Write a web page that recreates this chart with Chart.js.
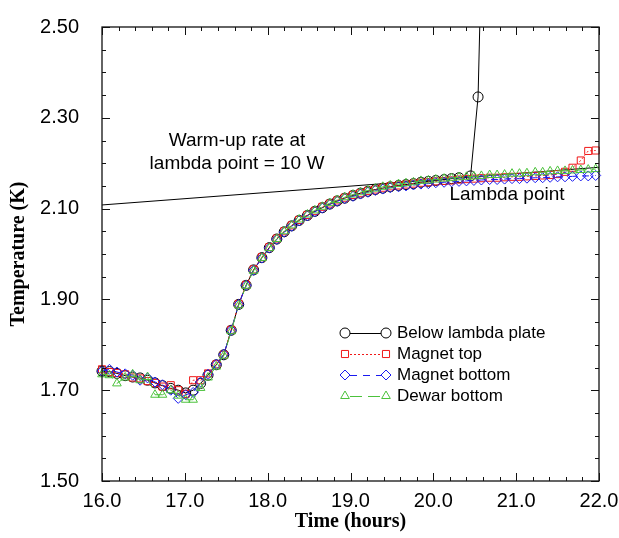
<!DOCTYPE html>
<html>
<head>
<meta charset="utf-8">
<script src="https://cdn.jsdelivr.net/npm/chart.js"></script>
<style>
  html, body { margin: 0; padding: 0; background: #fff; }
  #wrap { width: 619px; height: 538px; }
</style>
</head>
<body>
<div id="wrap"><canvas id="tempChart" width="619" height="538"></canvas></div>
<script>
// Sample times (hours), one reading every ~5.5 minutes
const times = [16.00, 16.09, 16.18, 16.28, 16.37, 16.46, 16.55, 16.64, 16.73, 16.83, 16.92,
  17.01, 17.10, 17.19, 17.28, 17.38, 17.47, 17.56, 17.65, 17.74, 17.83, 17.93,
  18.02, 18.11, 18.20, 18.29, 18.38, 18.48, 18.57, 18.66, 18.75, 18.84, 18.93,
  19.03, 19.12, 19.21, 19.30, 19.39, 19.48, 19.58, 19.67, 19.76, 19.85, 19.94,
  20.03, 20.13, 20.22, 20.31, 20.40, 20.49, 20.58, 20.68, 20.77, 20.86, 20.95,
  21.04, 21.13, 21.23, 21.32, 21.41, 21.50, 21.59, 21.68, 21.78, 21.87, 21.96];

// Temperatures (K)
// below lambda plate: shared readings up to 20.31 h, then its own tail
const belowLambda = [1.742, 1.741, 1.737, 1.732, 1.729, 1.727, 1.722, 1.716, 1.710, 1.704, 1.700,
  1.694, 1.700, 1.715, 1.733, 1.756, 1.778, 1.832, 1.889, 1.931, 1.965, 1.992,
  2.014, 2.033, 2.049, 2.062, 2.074, 2.085, 2.094, 2.102, 2.110, 2.117, 2.123,
  2.129, 2.134, 2.138, 2.142, 2.145, 2.148, 2.151, 2.153, 2.155, 2.158, 2.160,
  2.162, 2.164, 2.166, 2.168];
const lambdaTailTimes = [20.45, 20.54, 20.62];
const lambdaTailTemps = [2.172, 2.346, 2.95];

const magnetTop = [1.746, 1.740, 1.738, 1.735, 1.728, 1.726, 1.720, 1.716, 1.708, 1.711, 1.700,
  1.692, 1.722, 1.722, 1.737, 1.757, 1.778, 1.833, 1.890, 1.932, 1.966, 1.993,
  2.015, 2.034, 2.050, 2.063, 2.075, 2.086, 2.095, 2.104, 2.111, 2.118, 2.124,
  2.130, 2.134, 2.139, 2.142, 2.146, 2.149, 2.151, 2.153, 2.155, 2.157, 2.158,
  2.160, 2.161, 2.162, 2.164, 2.165, 2.166, 2.167, 2.168, 2.168, 2.169, 2.170,
  2.170, 2.171, 2.172, 2.173, 2.174, 2.176, 2.181, 2.190, 2.206, 2.227, 2.228];

const magnetBottom = [1.742, 1.746, 1.740, 1.736, 1.733, 1.722, 1.727, 1.718, 1.712, 1.700, 1.682,
  1.690, 1.695, 1.718, 1.735, 1.757, 1.779, 1.832, 1.889, 1.931, 1.964, 1.991,
  2.013, 2.032, 2.048, 2.061, 2.073, 2.084, 2.093, 2.101, 2.109, 2.116, 2.122,
  2.127, 2.132, 2.136, 2.140, 2.143, 2.146, 2.148, 2.150, 2.152, 2.154, 2.155,
  2.157, 2.158, 2.159, 2.160, 2.161, 2.162, 2.163, 2.164, 2.164, 2.165, 2.166,
  2.166, 2.167, 2.168, 2.168, 2.169, 2.170, 2.170, 2.171, 2.172, 2.172, 2.173];

const dewarBottom = [1.735, 1.733, 1.715, 1.728, 1.735, 1.722, 1.729, 1.690, 1.690, 1.700, 1.688,
  1.679, 1.679, 1.705, 1.728, 1.752, 1.776, 1.830, 1.887, 1.930, 1.963, 1.991,
  2.013, 2.033, 2.050, 2.063, 2.076, 2.087, 2.096, 2.104, 2.112, 2.119, 2.125,
  2.131, 2.136, 2.140, 2.144, 2.148, 2.151, 2.154, 2.156, 2.158, 2.161, 2.162,
  2.164, 2.166, 2.167, 2.169, 2.170, 2.171, 2.172, 2.174, 2.174, 2.175, 2.177,
  2.177, 2.178, 2.180, 2.180, 2.182, 2.183, 2.183, 2.184, 2.185, 2.186, 2.187];

// Straight line fitted through the lambda point
const warmupTimes = [16.0, 22.0];
const warmupTemps = [2.108, 2.191];

const seriesNames = ['Below lambda plate', 'Magnet top', 'Magnet bottom', 'Dewar bottom'];
const annotationLines = ['Warm-up rate at', 'lambda point = 10 W'];
const lambdaLabel = 'Lambda point';

const SANS = '"Liberation Sans", Arial, sans-serif';
const SERIF = '"Liberation Serif", "Times New Roman", serif';

Chart.defaults.font.family = SANS;
Chart.defaults.color = '#000';

function toPoints(xs, ys) {
  return xs.map((x, i) => ({ x: x, y: ys[i] }));
}

const clipBox = { left: 7, top: 0, right: 7, bottom: 7 };

function series(label, points, color, style, dash, order) {
  return {
    label: label,
    data: points,
    borderColor: color,
    backgroundColor: 'rgba(0,0,0,0)',
    borderWidth: 1,
    borderDash: dash,
    pointStyle: style,
    pointRadius: 5,
    pointBorderColor: color,
    pointBackgroundColor: 'rgba(0,0,0,0)',
    pointBorderWidth: 1,
    tension: 0,
    clip: clipBox,
    order: order
  };
}

const lambdaPoints = toPoints(times.slice(0, belowLambda.length), belowLambda)
  .concat(toPoints(lambdaTailTimes, lambdaTailTemps));

const datasets = [
  series(seriesNames[0], lambdaPoints, '#000000', 'circle', [], 3),
  series(seriesNames[1], toPoints(times, magnetTop), '#f01818', 'rect', [2, 2], 2),
  series(seriesNames[2], toPoints(times, magnetBottom), '#1a1af0', 'rectRot', [7, 6], 1),
  series(seriesNames[3], toPoints(times, dewarBottom), '#4cc23c', 'triangle', [12, 6], 0),
  {
    label: 'warmup',
    data: toPoints(warmupTimes, warmupTemps),
    borderColor: '#000',
    borderWidth: 1,
    pointRadius: 0,
    tension: 0,
    order: 4
  }
];

// Frame, inward ticks, legend, labels
const decorations = {
  id: 'decorations',
  afterDraw(chart) {
    const ctx = chart.ctx;
    const a = chart.chartArea;
    const xs = chart.scales.x;
    const ys = chart.scales.y;
    ctx.save();

    ctx.strokeStyle = '#111';
    ctx.lineWidth = 1.3;
    ctx.strokeRect(a.left, a.top, a.right - a.left, a.bottom - a.top);

    ctx.lineWidth = 1;
    ctx.beginPath();
    for (let k = 0; k <= 30; k++) {
      const v = 16 + k * 0.2;
      const px = Math.round(xs.getPixelForValue(v)) + 0.5;
      const len = k % 5 === 0 ? 8 : 4;
      ctx.moveTo(px, a.bottom); ctx.lineTo(px, a.bottom - len);
      ctx.moveTo(px, a.top); ctx.lineTo(px, a.top + len);
    }
    for (let k = 0; k <= 20; k++) {
      const v = 1.5 + k * 0.05;
      const py = Math.round(ys.getPixelForValue(v)) + 0.5;
      const len = k % 4 === 0 ? 8 : 4;
      ctx.moveTo(a.left, py); ctx.lineTo(a.left + len, py);
      ctx.moveTo(a.right, py); ctx.lineTo(a.right - len, py);
    }
    ctx.stroke();

    // axis titles
    ctx.fillStyle = '#000';
    ctx.font = 'bold 20px ' + SERIF;
    ctx.textAlign = 'center';
    ctx.textBaseline = 'middle';
    ctx.fillText('Time (hours)', (a.left + a.right) / 2, 522);
    ctx.save();
    ctx.translate(19, (a.top + a.bottom) / 2);
    ctx.rotate(-Math.PI / 2);
    ctx.fillText('Temperature (K)', 0, 0);
    ctx.restore();

    // annotations
    ctx.font = '19px ' + SANS;
    ctx.fillText(annotationLines[0], 237, 141);
    ctx.fillText(annotationLines[1], 237, 164);
    ctx.fillText(lambdaLabel, 507, 195);

    // legend
    const rowsY = [333, 354, 375, 396];
    const x1 = 345, x2 = 386;
    ctx.font = '17px ' + SANS;
    ctx.textAlign = 'left';
    for (let i = 0; i < 4; i++) {
      const ds = chart.data.datasets[i];
      const y = rowsY[i];
      ctx.strokeStyle = ds.borderColor;
      ctx.lineWidth = 1;
      ctx.setLineDash(ds.borderDash);
      ctx.beginPath();
      ctx.moveTo(x1 + 5, y + 0.5);
      ctx.lineTo(x2 - 5, y + 0.5);
      ctx.stroke();
      ctx.setLineDash([]);
      const opts = { pointStyle: ds.pointStyle, radius: 5, rotation: 0, borderWidth: 1 };
      ctx.fillStyle = 'rgba(0,0,0,0)';
      Chart.helpers.drawPoint(ctx, opts, x1, y);
      Chart.helpers.drawPoint(ctx, opts, x2, y);
      ctx.fillStyle = '#000';
      ctx.fillText(ds.label, 397, y);
    }
    ctx.restore();
  }
};

new Chart(document.getElementById('tempChart'), {
  type: 'line',
  data: { datasets: datasets },
  options: {
    responsive: false,
    animation: false,
    devicePixelRatio: 1,
    layout: { padding: { top: 19, right: 20, left: 0, bottom: 0 } },
    plugins: {
      legend: { display: false },
      tooltip: { enabled: false },
      title: { display: false }
    },
    scales: {
      x: {
        type: 'linear',
        min: 16,
        max: 22,
        grid: { display: false },
        border: { display: false },
        ticks: {
          stepSize: 1,
          padding: 0,
          maxRotation: 0,
          font: { size: 20 },
          color: '#000',
          callback: v => Number(v).toFixed(1)
        },
        afterFit: s => { s.height = 57; }
      },
      y: {
        type: 'linear',
        min: 1.5,
        max: 2.5,
        grid: { display: false },
        border: { display: false },
        ticks: {
          stepSize: 0.2,
          padding: 15,
          font: { size: 20 },
          color: '#000',
          callback: v => Number(v).toFixed(2)
        },
        afterFit: s => { s.width = 102; }
      }
    }
  },
  plugins: [decorations]
});
</script>
</body>
</html>
